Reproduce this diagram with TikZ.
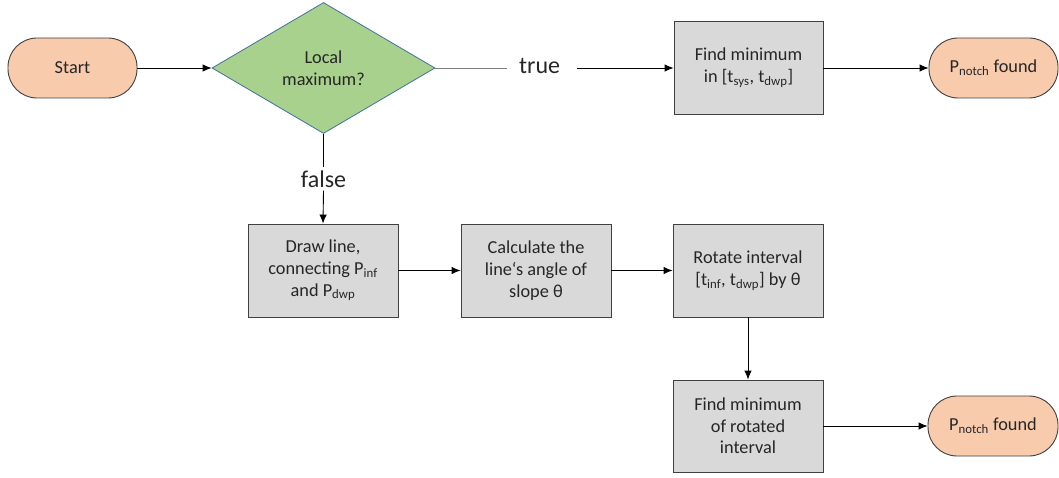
\documentclass[tikz,border=0pt]{standalone}
\usepackage{fontspec}
\setmainfont{Carlito}
\usetikzlibrary{shapes.geometric,arrows.meta}
\definecolor{peach}{HTML}{F8CBAD}
\definecolor{dgreen}{HTML}{A9D18E}
\definecolor{dblue}{HTML}{41719C}
\definecolor{boxgray}{HTML}{D9D9D9}
\definecolor{edge}{HTML}{404040}
\definecolor{txt}{HTML}{262626}
\tikzset{
  base/.style={font=\fontsize{18.3}{21.7}\selectfont, text=txt, align=center, inner sep=0pt},
  term/.style={base, draw=edge, fill=peach, line width=0.9pt, rounded corners=29pt, minimum width=129pt, minimum height=60pt},
  decision/.style={base, diamond, draw=dblue, fill=dgreen, line width=0.8pt, minimum width=223pt, minimum height=131pt},
  proc/.style={base, draw=edge, fill=boxgray, line width=0.9pt, minimum width=150pt, minimum height=93pt},
  lbl/.style={font=\fontsize{24}{26}\selectfont, text=txt, inner xsep=14pt, inner ysep=2pt},
  conn/.style={line width=0.9pt, draw=black},
  arr/.style={conn, -{Latex[length=9pt,width=7.5pt]}},
}
\begin{document}
\begin{tikzpicture}[x=1pt,y=-1pt]
\useasboundingbox (0,0) rectangle (1059,478);
\node[term] (start) at (72.5,68) {Start};
\node[decision] (dec) at (323.5,68) {Local\\maximum?};
\node[proc, minimum width=149pt] (b1) at (748.5,68) {Find minimum\\in [t\textsubscript{sys}, t\textsubscript{dwp}]};
\node[term] (p1) at (993.5,68) {P\textsubscript{notch} found};
\node[lbl, anchor=west, inner sep=0pt] (tl) at (519,68) {\strut true};
\node[lbl, inner xsep=4pt, inner ysep=3pt] (fl) at (323.5,179) {false};
\coordinate (tl1) at (507,68);
\coordinate (tl2) at (577,68);
\node[proc] (b2) at (323,270.5) {Draw line,\\connecting P\textsubscript{inf}\\and P\textsubscript{dwp}};
\node[proc] (b3) at (536,270.5) {Calculate the\\line‘s angle of\\slope θ};
\node[proc] (b4) at (748,270.5) {Rotate interval\\{}[t\textsubscript{inf}, t\textsubscript{dwp}] by θ};
\node[proc, minimum height=92pt] (b5) at (748,426) {Find minimum\\of rotated\\interval};
\node[term, minimum width=130pt] (p2) at (993,426) {P\textsubscript{notch} found};

\draw[arr] (start.east) -- (dec.west);
\draw[conn, draw=gray] (dec.east) -- (tl1);
\draw[arr] (tl2) -- (b1.west);
\draw[arr] (b1.east) -- (p1.west);
\draw[conn] (dec.south) -- (fl.north);
\draw[arr] (fl.south) -- (b2.north);
\draw[arr] (b2.east) -- (b3.west);
\draw[arr] (b3.east) -- (b4.west);
\draw[arr] (b4.south) -- (b5.north);
\draw[arr] (b5.east) -- (p2.west);
\end{tikzpicture}
\end{document}
